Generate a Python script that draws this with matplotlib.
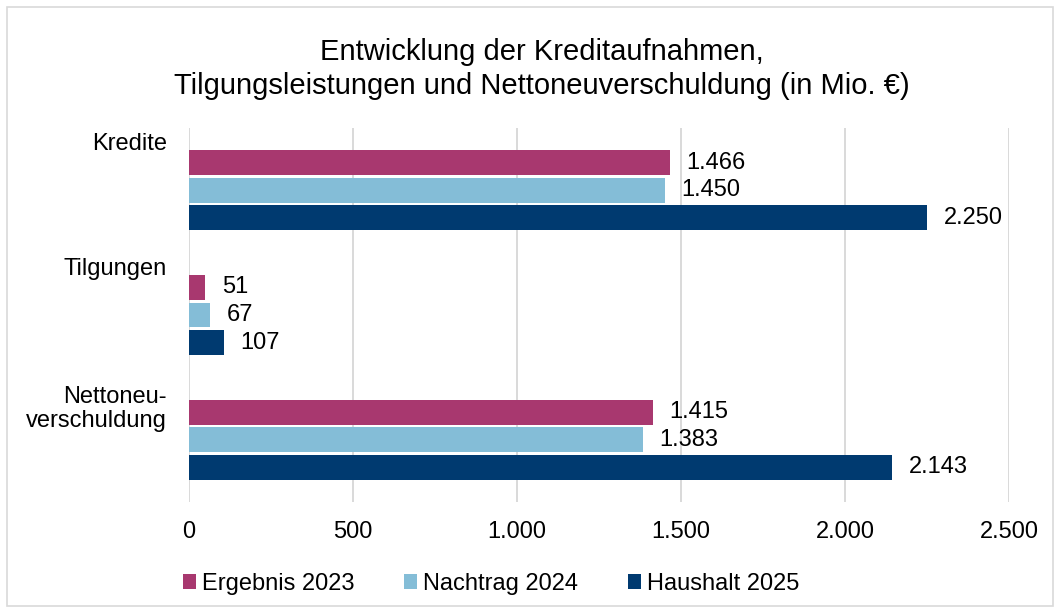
import matplotlib
matplotlib.use("Agg")
import matplotlib.pyplot as plt
from matplotlib.patches import Patch, Rectangle
import matplotlib.transforms as mtransforms
import numpy as np

plt.rcParams['font.family'] = ['Liberation Sans', 'DejaVu Sans']

categories = ["Kredite", "Tilgungen", "Nettoneu-\nverschuldung"]
series = ["Ergebnis 2023", "Nachtrag 2024", "Haushalt 2025"]
values = {
    "Ergebnis 2023": [1466, 51, 1415],
    "Nachtrag 2024": [1450, 67, 1383],
    "Haushalt 2025": [2250, 107, 2143],
}
colors = {"Ergebnis 2023": "#A8386F", "Nachtrag 2024": "#84BDD7", "Haushalt 2025": "#003A70"}
xticks = [0, 500, 1000, 1500, 2000, 2500]
xticklabels = ["0", "500", "1.000", "1.500", "2.000", "2.500"]

def de(v):
    return f"{v:,}".replace(",", ".")

W, H = 1060, 613
fig = plt.figure(figsize=(W / 100, H / 100), dpi=100)

def fx(px):
    return px / W

def fy(py):
    return 1 - py / H

ax = fig.add_axes([fx(188.5), fy(502), fx(1009.3) - fx(188.5), fy(128) - fy(502)])

FS = 17.0
pitch = 0.2206
bh = 0.2005
g = np.arange(len(categories))
for i, s in enumerate(series):
    y = g + (i - 1) * pitch
    bars = ax.barh(y, values[s], height=bh, color=colors[s], zorder=3)
    ax.bar_label(bars, labels=[de(v) for v in values[s]], padding=12,
                 fontsize=FS, color="#000000")

ax.set_xlim(0, 2500)
ax.set_ylim(2.5, -0.5)
ax.set_xticks(xticks)
ax.set_xticklabels(xticklabels, fontsize=FS)
ax.tick_params(axis='x', length=0, pad=14)
ax.set_yticks([])
ax.grid(axis='x', color="#D9D9D9", linewidth=1.4, zorder=0)
for sp in ax.spines.values():
    sp.set_visible(False)

# category labels
trans = mtransforms.blended_transform_factory(ax.transAxes, ax.transData)
lab_x = (167 - 188.5) / (1009.3 - 188.5)
baselines = [-0.3235, 0.679, 1.708]
for c, b in zip(categories, baselines):
    lines = c.split("\n")
    for k, ln in enumerate(lines):
        ax.text(lab_x, b + k * (24 / 124.67), ln, transform=trans, ha='right',
                va='baseline', fontsize=FS, clip_on=False)

# title
fig.text(fx(542), fy(60), "Entwicklung der Kreditaufnahmen,", ha='center',
         va='baseline', fontsize=21)
fig.text(fx(542), fy(94), "Tilgungsleistungen und Nettoneuverschuldung (in Mio. €)",
         ha='center', va='baseline', fontsize=21)

# legend
handles = [Patch(facecolor=colors[s], edgecolor='none', label=s) for s in series]
fig.legend(handles=handles, loc='center left', bbox_to_anchor=(fx(183), fy(584)),
           ncol=3, frameon=False, fontsize=17.0, handlelength=0.56, handleheight=0.56,
           handletextpad=0.25, columnspacing=2.1, borderpad=0, borderaxespad=0)

# border
fig.patches.append(Rectangle((fx(7), fy(606)), fx(1053) - fx(7), fy(7) - fy(606),
                             transform=fig.transFigure, fill=False,
                             edgecolor="#D9D9D9", linewidth=1.2))

fig.savefig("out.png", dpi=100)
